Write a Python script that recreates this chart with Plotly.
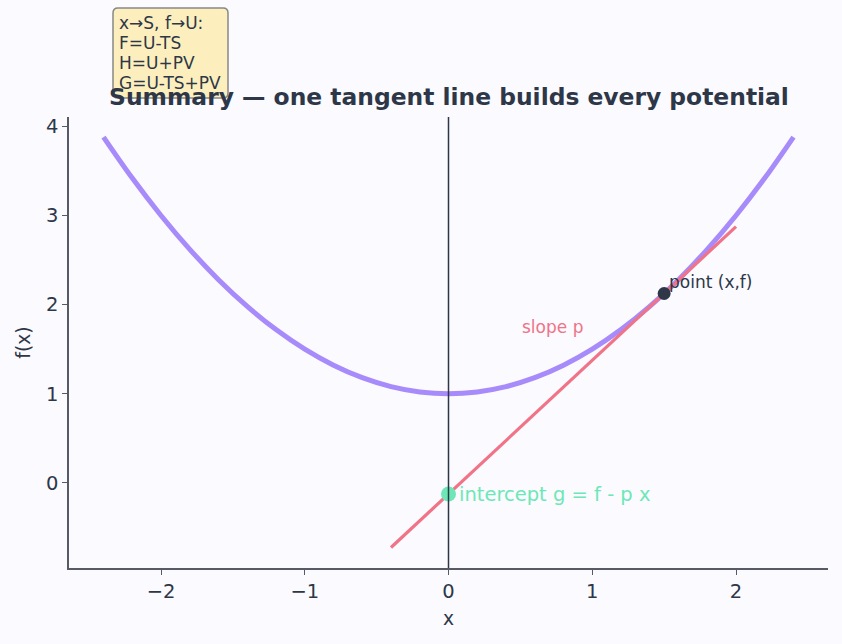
import plotly.graph_objects as go

# Curve f(x)
curve_x = [-2.4, -2.2, -2.0, -1.8, -1.6, -1.4, -1.2, -1.0, -0.8, -0.6, -0.4, -0.2, 0.0,
           0.2, 0.4, 0.6, 0.8, 1.0, 1.2, 1.4, 1.6, 1.8, 2.0, 2.2, 2.4]
curve_y = [3.88, 3.42, 3.00, 2.62, 2.28, 1.98, 1.72, 1.50, 1.32, 1.18, 1.08, 1.02, 1.00,
           1.02, 1.08, 1.18, 1.32, 1.50, 1.72, 1.98, 2.28, 2.62, 3.00, 3.42, 3.88]

# Tangent line endpoints
tan_x = [-0.4, 2.0]
tan_y = [-0.725, 2.875]

# Tangent point and intercept
point_x = [1.5]
point_y = [2.125]
icpt_x = [0.0]
icpt_y = [-0.125]

box_lines = ["x→S, f→U:", "F=U-TS", "H=U+PV", "G=U-TS+PV"]

dark = "#2d3748"
bg = "#fafaff"

W, H = 842, 644
ML, MR, MT, MB = 69, 14, 117, 76
PW, PH = W - ML - MR, H - MT - MB


def px(xp):
    return (xp - ML) / PW


def py(yp):
    return (H - MB - yp) / PH


fig = go.Figure()
fig.add_trace(go.Scatter(x=curve_x, y=curve_y, mode="lines", line=dict(color="#a78bfa", width=5, shape="spline"),
                         hoverinfo="skip"))
fig.add_trace(go.Scatter(x=tan_x, y=tan_y, mode="lines", line=dict(color="#f07387", width=3.2)))
fig.add_trace(go.Scatter(x=point_x, y=point_y, mode="markers", marker=dict(color=dark, size=13)))
fig.add_trace(go.Scatter(x=icpt_x, y=icpt_y, mode="markers", marker=dict(color="#6ee7b7", size=15)))

fig.add_shape(type="line", xref="x", yref="paper", x0=0, x1=0, y0=0, y1=1,
              line=dict(color=dark, width=1.5))

# Rounded info box (pixel geometry converted to paper coords)
x0, x1, y0, y1, r = 113, 228, 8, 98, 5
path = (f"M {px(x0 + r)},{py(y0)} L {px(x1 - r)},{py(y0)} Q {px(x1)},{py(y0)} {px(x1)},{py(y0 + r)} "
        f"L {px(x1)},{py(y1 - r)} Q {px(x1)},{py(y1)} {px(x1 - r)},{py(y1)} "
        f"L {px(x0 + r)},{py(y1)} Q {px(x0)},{py(y1)} {px(x0)},{py(y1 - r)} "
        f"L {px(x0)},{py(y0 + r)} Q {px(x0)},{py(y0)} {px(x0 + r)},{py(y0)} Z")
fig.add_shape(type="path", xref="paper", yref="paper", path=path, fillcolor="#fdefbd",
              line=dict(color="#888888", width=1.5), layer="above")
for i, t in enumerate(box_lines):
    fig.add_annotation(xref="paper", yref="paper", x=px(117), y=py(23 + 20 * i), text=t,
                       showarrow=False, xanchor="left", yanchor="middle",
                       font=dict(size=17, color=dark, family="DejaVu Sans"))

fig.add_annotation(x=point_x[0], y=point_y[0], text="point (x,f)", showarrow=False,
                   xanchor="left", yanchor="bottom", xshift=3, yshift=-1,
                   font=dict(size=17, color=dark, family="DejaVu Sans"))
fig.add_annotation(x=0.5, y=1.75, text="slope p", showarrow=False,
                   xanchor="left", yanchor="middle",
                   font=dict(size=17, color="#f07387", family="DejaVu Sans"))
fig.add_annotation(x=icpt_x[0], y=icpt_y[0], text="intercept g = f - p x", showarrow=False,
                   xanchor="left", yanchor="middle", xshift=8,
                   font=dict(size=19.5, color="#6ee7b7", family="DejaVu Sans"))

fig.update_layout(
    width=W, height=H,
    margin=dict(l=ML, r=MR, t=MT, b=MB),
    paper_bgcolor=bg, plot_bgcolor=bg,
    showlegend=False,
    font=dict(family="DejaVu Sans", color=dark),
    title=dict(text="<b>Summary — one tangent line builds every potential</b>",
               x=449 / W, xanchor="center", y=1 - 97 / H, yanchor="middle",
               font=dict(size=23.4, color=dark)),
)
fig.update_xaxes(range=[-2.64, 2.64], tickvals=[-2, -1, 0, 1, 2], ticktext=["−2", "−1", "0", "1", "2"],
                 showgrid=False, zeroline=False, showline=True, linecolor="#555a66", linewidth=1.5,
                 ticks="outside", ticklen=5, tickcolor="#555a66", tickfont=dict(size=19.5),
                 title=dict(text="x", font=dict(size=18.7), standoff=10))
fig.update_yaxes(range=[-0.955, 4.105], tickvals=[0, 1, 2, 3, 4],
                 showgrid=False, zeroline=False, showline=True, linecolor="#555a66", linewidth=1.5,
                 ticks="outside", ticklen=5, tickcolor="#555a66", tickfont=dict(size=19.5),
                 title=dict(text="f(x)", font=dict(size=18.7), standoff=10))

fig.write_html("out.html")
